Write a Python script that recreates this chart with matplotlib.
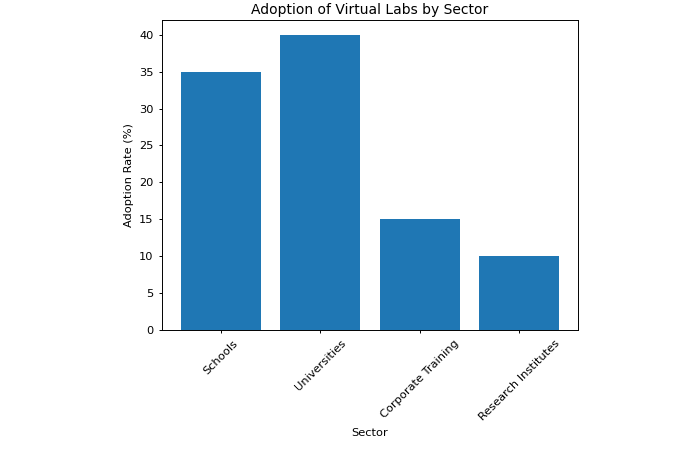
import matplotlib.pyplot as plt

# Données du graphique
secteurs = ['Schools', 'Universities', 'Corporate Training', 'Research Institutes']
taux_adoption = [35, 40, 15, 10]

fig = plt.figure(figsize=(7, 4.5), dpi=100)
ax = fig.add_axes([162 / 700, 1 - 330 / 450, 416 / 700, 310 / 450])

ax.bar(secteurs, taux_adoption, color='#1f77b4')

ax.set_title('Adoption of Virtual Labs by Sector', fontsize=10, pad=4)
ax.set_xlabel('Sector', fontsize=8.2)
ax.set_ylabel('Adoption Rate (%)', fontsize=8.2)
ax.tick_params(axis='both', labelsize=8.2, length=2.5, width=0.7)
plt.setp(ax.get_xticklabels(), rotation=45)
for spine in ax.spines.values():
    spine.set_linewidth(0.7)

fig.savefig('out.png', dpi=100)
